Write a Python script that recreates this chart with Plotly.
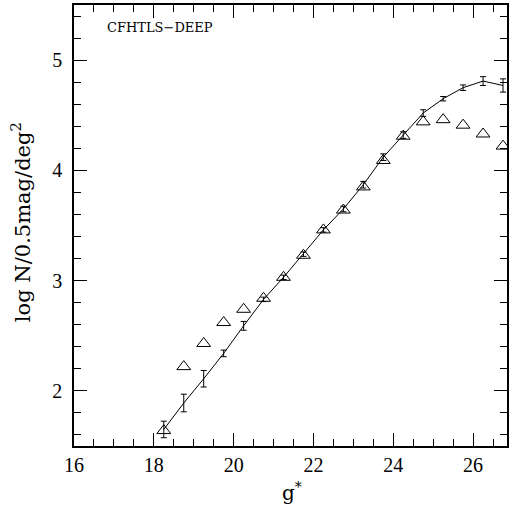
import plotly.graph_objects as go

mag = [18.25, 18.75, 19.25, 19.75, 20.25, 20.75, 21.25, 21.75, 22.25, 22.75,
       23.25, 23.75, 24.25, 24.75, 25.25, 25.75, 26.25, 26.75]
logn_deep = [1.65, 1.89, 2.11, 2.34, 2.59, 2.83, 3.03, 3.24, 3.46, 3.65,
             3.87, 4.12, 4.32, 4.52, 4.65, 4.75, 4.81, 4.77]
err_deep = [0.075, 0.08, 0.075, 0.03, 0.04, 0.02, 0.02, 0.02, 0.02, 0.025,
            0.03, 0.03, 0.03, 0.03, 0.02, 0.025, 0.04, 0.06]
logn_other = [1.64, 2.22, 2.43, 2.62, 2.74, 2.84, 3.03, 3.23, 3.46, 3.64,
              3.85, 4.09, 4.31, 4.44, 4.46, 4.41, 4.33, 4.22]

serif = "Liberation Serif"
wide_serif = "DejaVu Serif"

fig = go.Figure()
fig.add_trace(go.Scatter(
    x=mag, y=logn_deep, mode="lines",
    line=dict(color="black", width=1),
    error_y=dict(type="data", array=err_deep, color="black", thickness=1, width=3),
    showlegend=False, cliponaxis=True))
fig.add_trace(go.Scatter(
    x=mag, y=logn_other, mode="markers",
    marker=dict(symbol="triangle-up-open", size=12, color="black", line=dict(width=1)),
    showlegend=False))

fig.add_annotation(x=0.0713, y=0.948, xref="paper", yref="paper", text="CFHTLS\u2212DEEP",
                   showarrow=False, xanchor="left", yanchor="middle",
                   font=dict(family=wide_serif, size=13, color="black"))
# axis titles
fig.add_annotation(x=-0.122, y=0.508, xref="paper", yref="paper",
                   text="log N/0.5mag/deg<sup>2</sup>", textangle=-90,
                   showarrow=False, xanchor="center", yanchor="middle",
                   font=dict(family=wide_serif, size=21, color="black"))
fig.add_annotation(x=0.503, y=-0.104, xref="paper", yref="paper",
                   text="g<sup>*</sup>",
                   showarrow=False, xanchor="center", yanchor="middle",
                   font=dict(family=wide_serif, size=20, color="black"))

axis_common = dict(showgrid=False, zeroline=False, showline=True, linecolor="black",
                   linewidth=1.5, mirror="allticks", ticks="inside", tickcolor="black",
                   tickwidth=1, ticklen=13,
                   tickfont=dict(family=serif, size=20, color="black"))
fig.update_xaxes(range=[16, 26.85], tickvals=[16, 18, 20, 22, 24, 26],
                 minor=dict(dtick=0.5, tick0=16, ticks="inside", ticklen=7, tickcolor="black", tickwidth=1),
                 **axis_common)
fig.update_yaxes(range=[1.5, 5.5], tickvals=[2, 3, 4, 5],
                 minor=dict(dtick=0.2, tick0=1.6, ticks="inside", ticklen=7, tickcolor="black", tickwidth=1),
                 ticklabelstandoff=6,
                 **axis_common)
fig.update_layout(width=511, height=510, margin=dict(l=74, r=2, t=5, b=64),
                  paper_bgcolor="white", plot_bgcolor="white")
fig.write_html("out.html")
